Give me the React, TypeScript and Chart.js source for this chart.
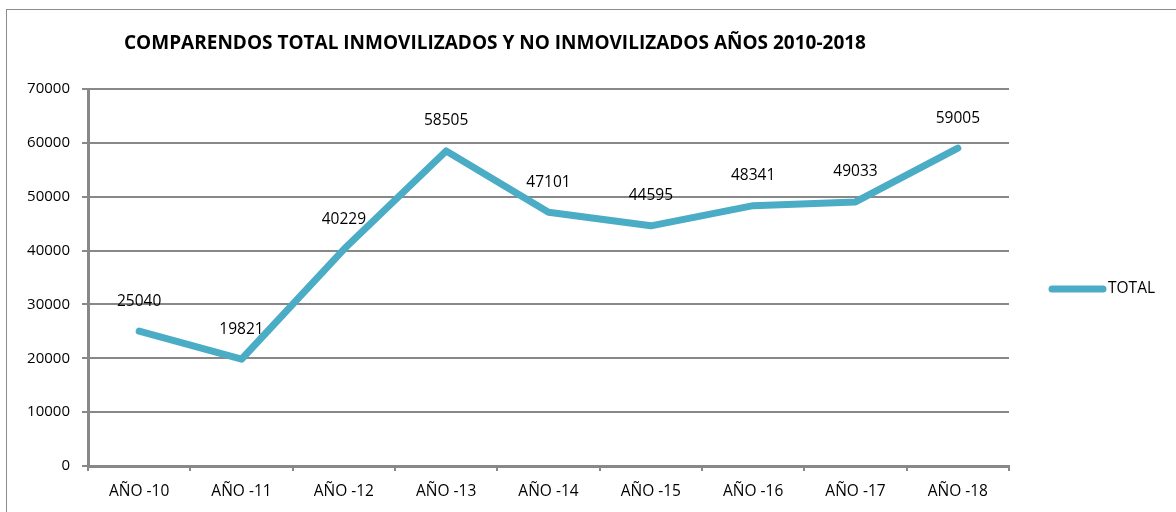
import React, { useEffect, useRef } from "react";
import { Chart, registerables } from "chart.js";

Chart.register(...registerables);

const categories = ["AÑO -10", "AÑO -11", "AÑO -12", "AÑO -13", "AÑO -14", "AÑO -15", "AÑO -16", "AÑO -17", "AÑO -18"];
const totalValues = [25040, 19821, 40229, 58505, 47101, 44595, 48341, 49033, 59005];
const seriesName = "TOTAL";
const chartTitle = "COMPARENDOS TOTAL INMOVILIZADOS Y NO INMOVILIZADOS AÑOS 2010-2018";

const FONT = "'Open Sans', 'Noto Sans', sans-serif";
const LINE_COLOR = "#4BACC6";
const GRID_COLOR = "#888888";

const decorPlugin = {
  id: "decor",
  beforeDraw(chart: any) {
    const ctx = chart.ctx;
    ctx.save();
    ctx.fillStyle = "#ffffff";
    ctx.fillRect(0, 0, chart.width, chart.height);
    ctx.strokeStyle = "#8c8c8c";
    ctx.lineWidth = 1;
    ctx.strokeRect(6.5, 9.5, chart.width + 20, chart.height + 20);
    ctx.restore();
  },
  afterDraw(chart: any) {
    const ctx = chart.ctx;
    const area = chart.chartArea;
    ctx.save();
    // title
    ctx.fillStyle = "#000000";
    ctx.font = `bold 19px ${FONT}`;
    ctx.textAlign = "center";
    ctx.textBaseline = "middle";
    ctx.fillText(chartTitle, 495, 44);
    // data labels
    const meta = chart.getDatasetMeta(0);
    ctx.font = `15.5px ${FONT}`;
    ctx.textBaseline = "middle";
    meta.data.forEach((pt: any, i: number) => {
      ctx.fillText(String(totalValues[i]), pt.x, pt.y - 30);
    });
    // legend
    const ly = 289;
    ctx.strokeStyle = LINE_COLOR;
    ctx.lineWidth = 7;
    ctx.lineCap = "round";
    ctx.beginPath();
    ctx.moveTo(area.right + 43, ly);
    ctx.lineTo(area.right + 94, ly);
    ctx.stroke();
    ctx.textAlign = "left";
    ctx.font = `15.5px ${FONT}`;
    ctx.fillText(seriesName, area.right + 99, ly);
    ctx.restore();
  },
};

export default function App() {
  const ref = useRef<HTMLCanvasElement | null>(null);
  useEffect(() => {
    document.body.style.margin = "0";
    const canvas = ref.current!;
    const chart = new Chart(canvas, {
      type: "line",
      data: {
        labels: categories,
        datasets: [
          {
            label: seriesName,
            data: totalValues,
            borderColor: LINE_COLOR,
            backgroundColor: LINE_COLOR,
            borderWidth: 7,
            pointRadius: 0,
            tension: 0,
            borderJoinStyle: "round",
            borderCapStyle: "round",
          },
        ],
      },
      options: {
        responsive: false,
        animation: false,
        layout: { padding: { left: 0, top: 89, right: 167, bottom: 0 } },
        plugins: {
          legend: { display: false },
          title: { display: false },
          tooltip: { enabled: false },
        },
        scales: {
          x: {
            type: "category",
            offset: true,
            grid: {
              offset: true,
              drawOnChartArea: false,
              drawTicks: true,
              tickLength: 5,
              color: GRID_COLOR,
              lineWidth: 2,
            },
            border: { color: GRID_COLOR, width: 3 },
            ticks: {
              color: "#000000",
              font: { family: FONT, size: 15.5 },
              padding: 11,
              maxRotation: 0,
            },
            afterFit(scale: any) {
              scale.height = 512 - 466;
            },
          },
          y: {
            min: 0,
            max: 70000,
            ticks: {
              stepSize: 10000,
              color: "#000000",
              font: { family: FONT, size: 15 },
              padding: 12,
              callback: (v: any) => String(v),
            },
            grid: {
              color: GRID_COLOR,
              lineWidth: 2,
              tickLength: 6,
            },
            border: { color: GRID_COLOR, width: 3 },
            afterFit(scale: any) {
              scale.width = 88;
            },
          },
        },
      },
      plugins: [decorPlugin],
    });
    return () => chart.destroy();
  }, []);
  return <canvas ref={ref} width={1176} height={512} style={{ display: "block" }} />;
}
